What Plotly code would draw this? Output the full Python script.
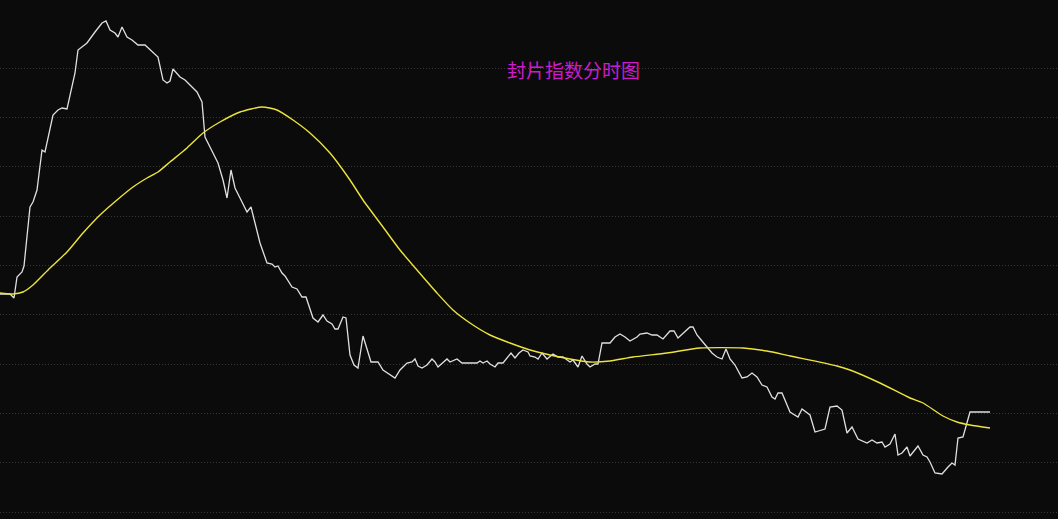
import plotly.graph_objects as go

# Time axis in sample ticks, value axis in index points
price_t = [0, 10, 14, 17, 22, 24, 30, 33, 37, 42, 45, 53, 58, 62, 67, 72, 75, 78, 87, 95,
           102, 106, 110, 115, 118, 122, 127, 132, 138, 145, 150, 158, 163, 167, 170, 173, 180, 185, 190, 197,
           202, 205, 210, 218, 223, 227, 231, 235, 240, 247, 251, 257, 260, 267, 272, 275, 278, 282, 285, 292,
           297, 302, 306, 313, 318, 323, 327, 332, 335, 338, 343, 346, 350, 354, 358, 363, 367, 371, 378, 383,
           395, 400, 407, 412, 415, 418, 422, 427, 432, 435, 438, 442, 447, 450, 457, 462, 477, 480, 483, 487,
           490, 495, 498, 503, 507, 511, 515, 519, 523, 528, 530, 535, 538, 542, 547, 553, 558, 563, 570, 573,
           578, 582, 587, 590, 595, 598, 602, 610, 615, 620, 625, 630, 637, 640, 647, 652, 657, 663, 670, 674,
           678, 683, 690, 693, 697, 702, 707, 712, 717, 722, 726, 730, 735, 742, 747, 752, 757, 762, 767, 772,
           775, 778, 782, 785, 790, 798, 802, 810, 815, 825, 830, 837, 842, 847, 852, 858, 867, 872, 877, 882,
           885, 890, 895, 898, 902, 907, 910, 918, 923, 927, 930, 935, 942, 948, 952, 955, 958, 963, 970, 990]
price_py = [294, 294, 298, 277, 272, 266, 207, 202, 190, 150, 152, 115, 110, 108, 109, 87, 73, 50, 43, 32,
            23, 21, 30, 33, 37, 27, 37, 40, 45, 45, 50, 57, 80, 83, 81, 69, 77, 80, 85, 92,
            102, 137, 147, 163, 180, 198, 170, 188, 198, 212, 207, 230, 243, 263, 264, 267, 266, 273, 276, 287,
            289, 297, 297, 318, 322, 315, 321, 324, 329, 329, 317, 318, 355, 365, 368, 336, 350, 362, 362, 370,
            378, 370, 363, 362, 359, 366, 368, 365, 359, 362, 367, 363, 359, 362, 359, 363, 363, 361, 363, 361,
            364, 367, 363, 363, 358, 353, 358, 353, 350, 352, 356, 357, 359, 353, 359, 354, 357, 357, 362, 360,
            367, 356, 364, 367, 364, 364, 343, 343, 337, 334, 337, 341, 337, 334, 333, 335, 335, 339, 331, 331,
            338, 333, 327, 327, 335, 341, 347, 353, 357, 359, 349, 359, 365, 378, 377, 373, 377, 385, 387, 397,
            399, 393, 393, 400, 412, 417, 409, 415, 432, 429, 407, 406, 410, 433, 427, 439, 443, 440, 443, 442,
            447, 444, 434, 455, 453, 447, 456, 446, 455, 457, 462, 473, 474, 467, 463, 465, 438, 437, 412, 412]
price_vals = [512 - p for p in price_py]

avg_t = [0, 13, 23, 33, 50, 67, 83, 100, 117, 133, 147, 158, 170, 187, 203, 220, 240, 262, 277, 293,
         310, 330, 350, 363, 383, 400, 417, 437, 453, 470, 490, 510, 530, 550, 570, 590, 610, 633, 667, 700,
         743, 767, 790, 837, 850, 880, 910, 923, 943, 957, 970, 990]
avg_py = [293, 294, 292, 285, 268, 252, 233, 215, 200, 187, 178, 172, 162, 148, 133, 122, 112, 107, 110, 120,
          133, 153, 180, 200, 227, 250, 270, 293, 310, 323, 335, 343, 350, 355, 359, 362, 361, 357, 353, 348,
          348, 351, 356, 366, 370, 383, 398, 403, 416, 422, 425, 428]
avg_vals = [512 - p for p in avg_py]

grid_vals = [i * 49.33 for i in range(10)]
title_text = "封片指数分时图"

fig = go.Figure()
fig.add_trace(go.Scatter(x=price_t, y=price_vals, mode="lines",
                         line=dict(color="#e0e0e0", width=1.3), hoverinfo="skip"))
fig.add_trace(go.Scatter(x=avg_t, y=avg_vals, mode="lines",
                         line=dict(color="#ece33c", width=1.4, shape="spline", smoothing=0.6),
                         hoverinfo="skip"))

fig.update_layout(
    width=1058, height=519,
    margin=dict(l=0, r=0, t=0, b=0),
    paper_bgcolor="#0b0b0b", plot_bgcolor="#0b0b0b",
    showlegend=False,
    xaxis=dict(range=[0, 1058], showgrid=False, zeroline=False, showticklabels=False,
               showline=False, fixedrange=True),
    yaxis=dict(range=[-7, 512], tickvals=grid_vals, showticklabels=False, zeroline=False,
               showline=False, showgrid=True, gridcolor="#363636", gridwidth=1,
               griddash="1px,2px", fixedrange=True),
    annotations=[dict(text=title_text, xref="paper", yref="paper", x=573 / 1058, y=1 - 69 / 519,
                      xanchor="center", yanchor="middle", showarrow=False,
                      font=dict(family="Noto Sans CJK SC", size=19, color="#cc1ccc"))],
)

fig.write_html(
    "out.html",
    config={"displayModeBar": False},
    post_script="document.body.style.margin='0';document.body.style.padding='0';"
                "document.body.style.background='#0b0b0b';document.body.style.overflow='hidden';",
)
